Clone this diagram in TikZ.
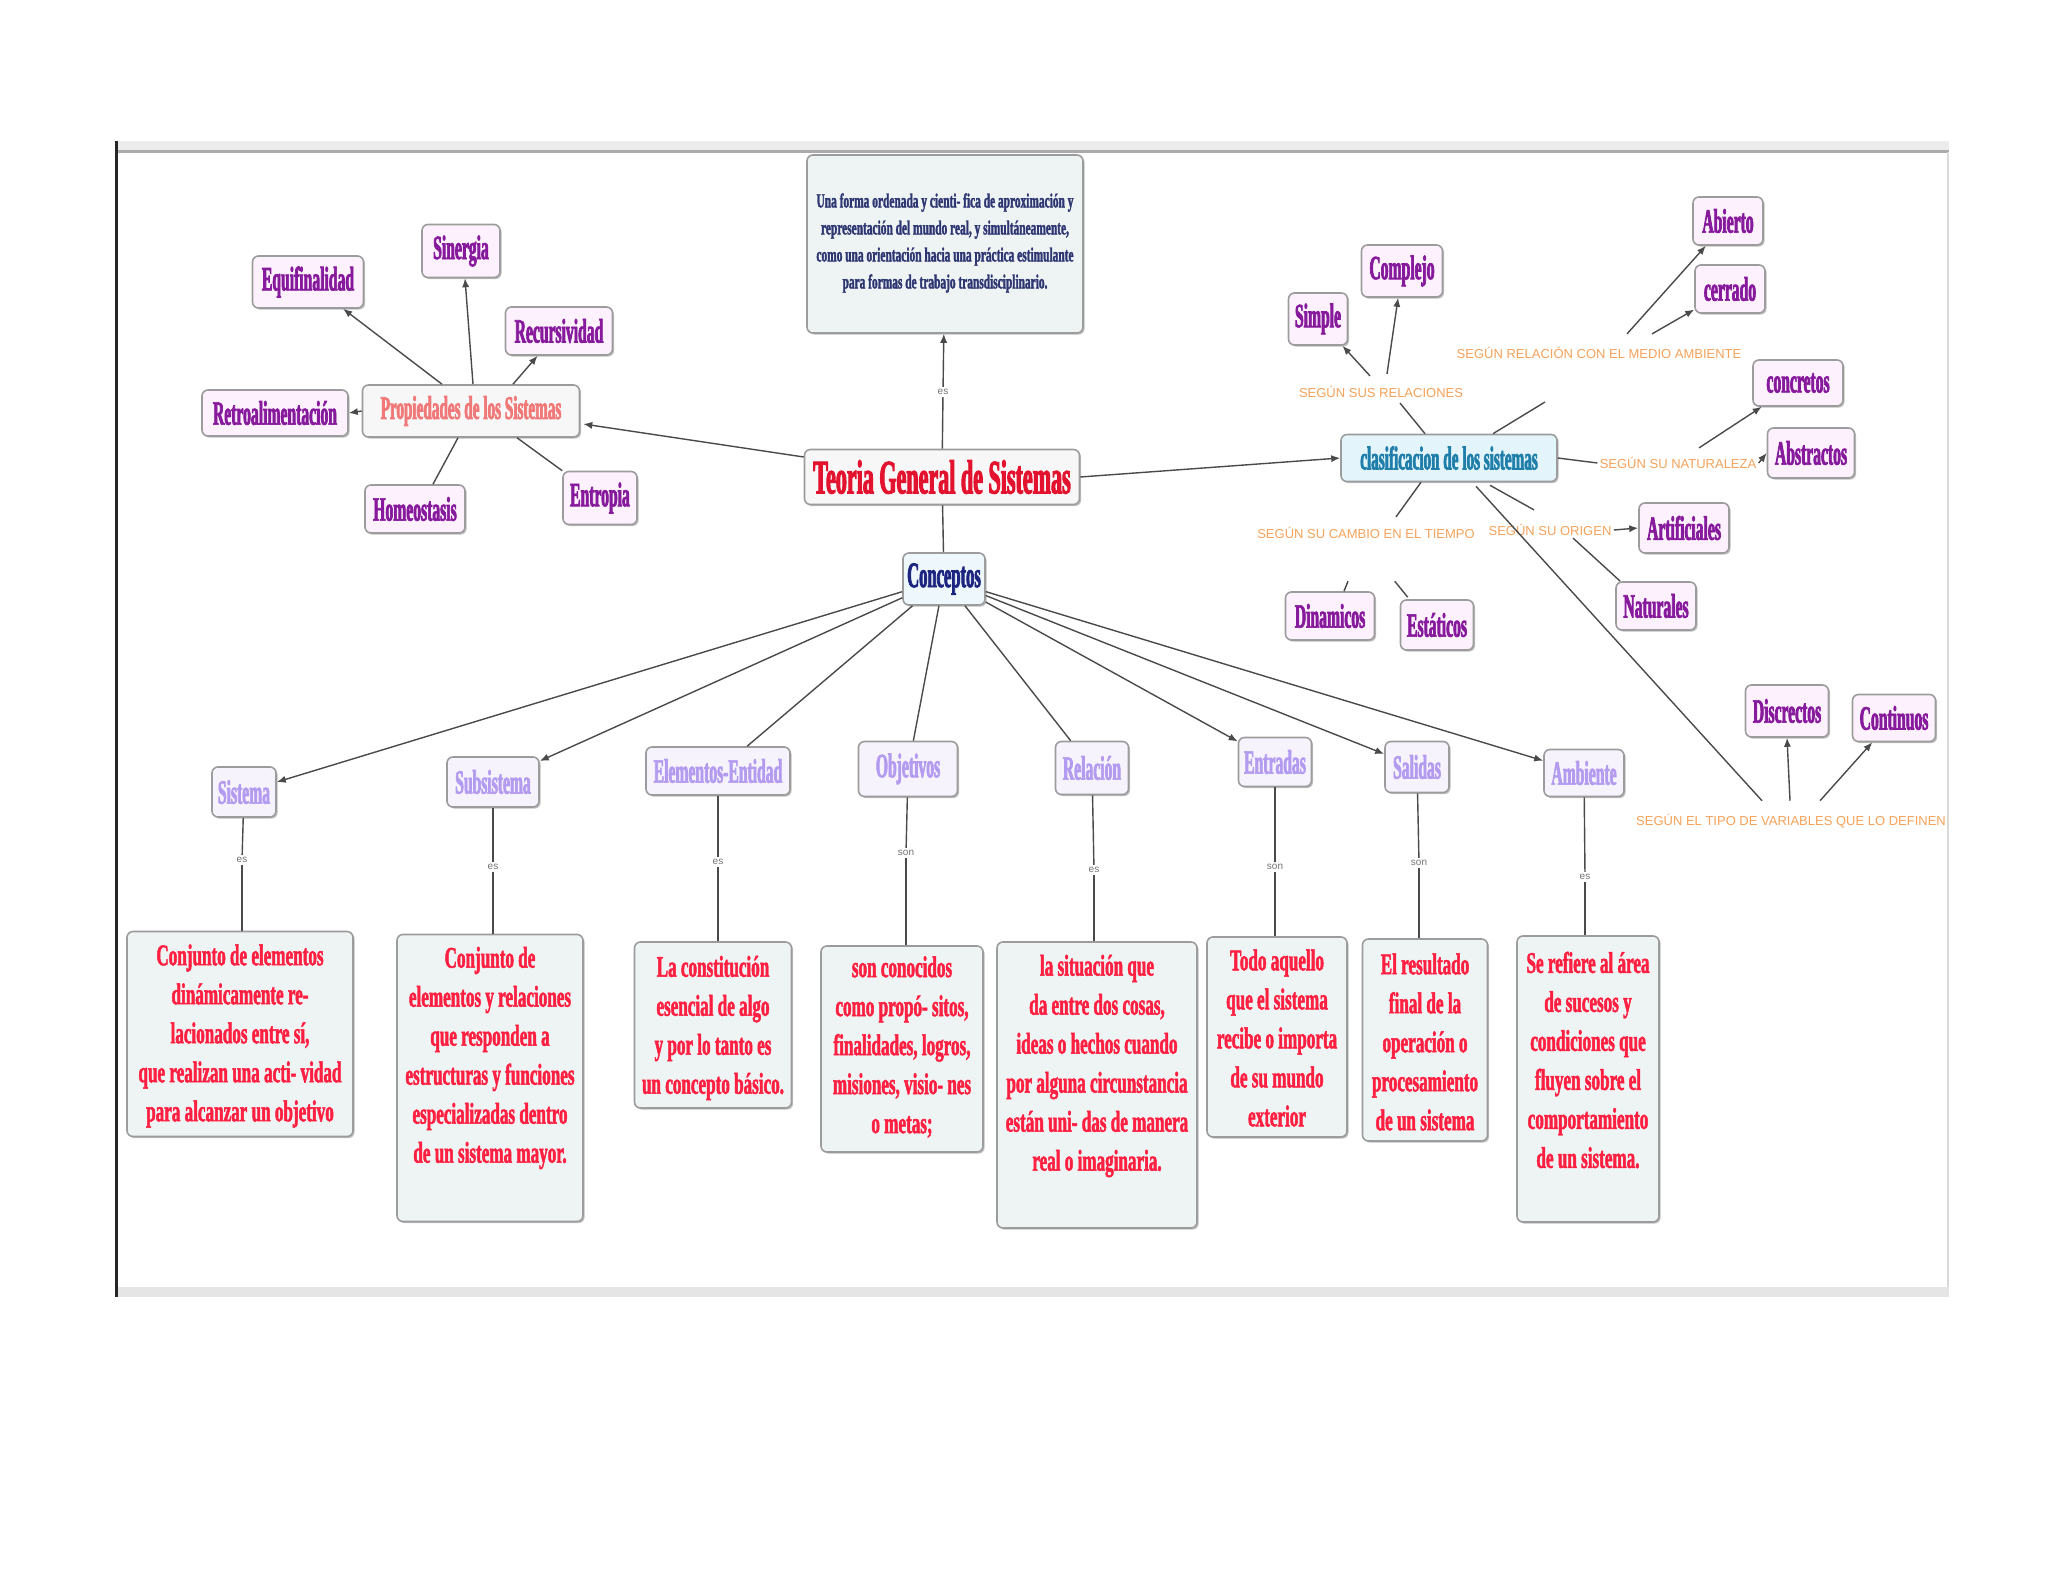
\documentclass[tikz,border=0pt]{standalone}
\usepackage{fontspec}
\setmainfont{Liberation Serif}
\newfontfamily\nodef[FakeStretch=0.46,FakeBold=2]{Liberation Serif}
\newfontfamily\descf[FakeStretch=0.57,FakeBold=1.6]{Liberation Serif}
\newfontfamily\lblf{Liberation Sans}
\usetikzlibrary{arrows.meta,calc,shadows}
\definecolor{purp}{HTML}{86199C}
\definecolor{teored}{HTML}{E3132F}
\definecolor{salmon}{HTML}{F07878}
\definecolor{clasblue}{HTML}{1F7FAA}
\definecolor{navy}{HTML}{1C2480}
\definecolor{lav}{HTML}{B39CF0}
\definecolor{descred}{HTML}{FF1F40}
\definecolor{topnavy}{HTML}{2E3672}
\definecolor{orlbl}{HTML}{F5A25A}
\definecolor{linec}{HTML}{4A4A4A}
\definecolor{boxline}{HTML}{9C9C9C}
\definecolor{descfill}{HTML}{EEF3F4}
\definecolor{pinkfill}{HTML}{FCF1FC}
\definecolor{lavfill}{HTML}{F7F3FD}
\definecolor{bluefill}{HTML}{E3F4FA}
\definecolor{bandgray}{HTML}{ECECEC}
\definecolor{bandline}{HTML}{ABABAB}
\tikzset{
  box/.style={draw=boxline, line width=0.8pt, rounded corners=3pt, inner sep=2pt, align=center,
     drop shadow={shadow xshift=0.8pt, shadow yshift=-0.8pt, opacity=0.25, fill=black}},
  wh/.style 2 args={minimum width=#1*0.5pt, minimum height=#2*0.5pt},
  pnode/.style={box, fill=pinkfill, text=purp, font=\nodef\bfseries\fontsize{17}{20}\selectfont},
  lnode/.style={box, fill=lavfill, text=lav, font=\nodef\bfseries\fontsize{17}{20}\selectfont},
  descbox/.style={box, fill=descfill},
  desctxt/.style={text=descred, align=center, inner sep=0pt, font=\descf\bfseries\fontsize{15}{19.5}\selectfont},
  lbl/.style={text=orlbl, inner sep=1pt, font=\lblf\fontsize{6.5}{8}\selectfont},
  lnk/.style={text=black!55, fill=white, inner sep=1pt, font=\lblf\fontsize{5}{6}\selectfont},
  conn/.style={draw=linec, line width=0.7pt},
  arr/.style={conn, -{Latex[length=4.5pt,width=3.6pt]}},
}
\begin{document}
\begin{tikzpicture}[x=0.5pt,y=-0.5pt]
\useasboundingbox (0,0) rectangle (2048,1582);
\fill[white] (0,0) rectangle (2048,1582);
% screenshot frame
\fill[bandgray] (115,141) rectangle (1949,151);
\draw[bandline, line width=1.5pt] (115,152) -- (1949,152);
\draw[black!15, line width=1pt] (1948,152) -- (1948,1288);
\fill[black!10] (115,1287) rectangle (1949,1297);
\draw[black!85, line width=1.5pt] (116,141) -- (116,1297);

% centre
\node[box, fill=descfill, wh={276}{178}] (def) at (945,244) {};
\node[text=topnavy, inner sep=0pt, align=center, font=\descf\bfseries\fontsize{10}{13.5}\selectfont] (deft) at (945,243)
 {Una forma ordenada y cienti- fica de aproximación y\\representación del mundo real, y simultáneamente,\\como una orientación hacia una práctica estimulante\\para formas de trabajo transdisciplinario.};
\node[box, fill=black!3, wh={275}{55}, text=teored, font=\nodef\bfseries\fontsize{24}{28}\selectfont] (teo) at (942,477) {Teoria General de Sistemas};
\node[box, fill=bluefill!60, wh={82}{52}, text=navy, font=\nodef\bfseries\fontsize{18}{20}\selectfont] (con) at (944,579) {Conceptos};
\node[lnk] (l0) at (943,392) {es};

% propiedades
\node[box, fill=black!3, wh={217}{52}, text=salmon, font=\nodef\bfseries\fontsize{16.5}{20}\selectfont] (prop) at (471,411) {Propiedades de los Sistemas};
\node[pnode, wh={111}{52}] (equi) at (308,282) {Equifinalidad};
\node[pnode, wh={78}{53}] (sin) at (461,251) {Sinergia};
\node[pnode, wh={107}{48}] (rec) at (559,331) {Recursividad};
\node[pnode, wh={146}{46}] (ret) at (275,413) {Retroalimentación};
\node[pnode, wh={100}{48}] (hom) at (415,509) {Homeostasis};
\node[pnode, wh={74}{53}] (ent) at (600,498) {Entropia};

% clasificacion
\node[box, fill=bluefill, wh={216}{47}, text=clasblue, font=\nodef\bfseries\fontsize{16.5}{20}\selectfont] (clas) at (1449,458) {clasificacion de los sistemas};
\node[pnode, wh={59}{52}] (simp) at (1318,319) {Simple};
\node[pnode, wh={81}{52}] (comp) at (1402,271) {Complejo};
\node[pnode, wh={70}{48}] (abi) at (1728,221) {Abierto};
\node[pnode, wh={70}{48}] (cer) at (1730,289) {cerrado};
\node[pnode, wh={90}{46}] (conc) at (1798,383) {concretos};
\node[pnode, wh={87}{50}] (abst) at (1811,453) {Abstractos};
\node[pnode, wh={90}{50}] (arti) at (1684,528) {Artificiales};
\node[pnode, wh={80}{48}] (nat) at (1656,606) {Naturales};
\node[pnode, wh={89}{48}] (din) at (1330,616) {Dinamicos};
\node[pnode, wh={73}{50}] (est) at (1437,625) {Estáticos};
\node[pnode, wh={83}{52}] (disc) at (1787,711) {Discrectos};
\node[pnode, wh={83}{47}] (cont) at (1894,718) {Continuos};

\node[lbl] (lsus) at (1381,392) {SEGÚN SUS RELACIONES};
\node[lbl] (lmed) at (1599,353) {SEGÚN RELACIÓN CON EL MEDIO AMBIENTE};
\node[lbl] (lnat) at (1678,463) {SEGÚN SU NATURALEZA};
\node[lbl] (lcam) at (1366,533) {SEGÚN SU CAMBIO EN EL TIEMPO};
\node[lbl] (lori) at (1550,530) {SEGÚN SU ORIGEN};
\node[lbl] (lvar) at (1791,821) {SEGÚN EL TIPO DE VARIABLES QUE LO DEFINEN};
\coordinate (cmed) at (1545,402);

% conceptos row
\node[lnode, wh={64}{50}] (sis) at (244,792) {Sistema};
\node[lnode, wh={92}{50}] (sub) at (493,782) {Subsistema};
\node[lnode, wh={144}{48}] (ele) at (718,771) {Elementos-Entidad};
\node[lnode, wh={99}{55}] (obj) at (908,769) {Objetivos};
\node[lnode, wh={73}{53}] (rel) at (1092,768) {Relación};
\node[lnode, wh={73}{49}] (entr) at (1275,762) {Entradas};
\node[lnode, wh={64}{51}] (sal) at (1417,767) {Salidas};
\node[lnode, wh={80}{47}] (amb) at (1584,773) {Ambiente};

% descriptions
\node[descbox, wh={226}{205}] (d1) at (240,1034) {};
\node[desctxt] (t1) at (240,1036) {Conjunto de elementos\\dinámicamente re-\\lacionados entre sí,\\que realizan una acti- vidad\\para alcanzar un objetivo};
\node[descbox, wh={186}{287}] (d2) at (490,1078) {};
\node[desctxt] (t2) at (490,1058) {Conjunto de\\elementos y relaciones\\que responden a\\estructuras y funciones\\especializadas dentro\\de un sistema mayor.};
\node[descbox, wh={157}{166}] (d3) at (713,1025) {};
\node[desctxt] (t3) at (713,1028) {La constitución\\esencial de algo\\y por lo tanto es\\un concepto básico.};
\node[descbox, wh={162}{206}] (d4) at (902,1049) {};
\node[desctxt] (t4) at (902,1047) {son conocidos\\como propó- sitos,\\finalidades, logros,\\misiones, visio- nes\\o metas;};
\node[descbox, wh={200}{286}] (d5) at (1097,1085) {};
\node[desctxt] (t5) at (1097,1066) {la situación que\\da entre dos cosas,\\ideas o hechos cuando\\por alguna circunstancia\\están uni- das de manera\\real o imaginaria.};
\node[descbox, wh={140}{200}] (d6) at (1277,1037) {};
\node[desctxt] (t6) at (1277,1038) {Todo aquello\\que el sistema\\recibe o importa\\de su mundo\\exterior};
\node[descbox, wh={125}{202}] (d7) at (1425,1040) {};
\node[desctxt] (t7) at (1425,1042) {El resultado\\final de la\\operación o\\procesamiento\\de un sistema};
\node[descbox, wh={142}{286}] (d8) at (1588,1079) {};
\node[desctxt] (t8) at (1588,1060) {Se refiere al área\\de sucesos y\\condiciones que\\fluyen sobre el\\comportamiento\\de un sistema.};

\node[lnk] (e1) at (242,860) {es};
\node[lnk] (e2) at (493,867) {es};
\node[lnk] (e3) at (718,862) {es};
\node[lnk] (e4) at (906,853) {son};
\node[lnk] (e5) at (1094,870) {es};
\node[lnk] (e6) at (1275,867) {son};
\node[lnk] (e7) at (1419,863) {son};
\node[lnk] (e8) at (1585,877) {es};

% connectors: centre
\draw[conn] (teo) -- (l0);
\draw[arr] (l0) -- (def);
\draw[conn] (teo) -- (con);
\draw[arr] ($(teo.west)+(0,-20)$) -- ($(prop.east)+(3,13)$);
\draw[arr] (teo.east) -- (clas.west);

% propiedades
\draw[arr] ($(prop.north)+(-29,0)$) -- (equi);
\draw[arr] ($(prop.north)+(2,0)$) -- ($(sin.south)+(4,0)$);
\draw[arr] ($(prop.north)+(42,0)$) -- (rec);
\draw[arr] (prop.west) -- (ret.east);
\draw[conn] ($(prop.south)+(-13,0)$) -- ($(hom.north)+(18,0)$);
\draw[conn] ($(prop.south)+(46,0)$) -- (ent.north west);

% clasificacion
\draw[conn] ($(clas.north)+(-24,0)$) -- ($(lsus.south)+(19,3)$);
\draw[arr] ($(lsus.north)+(-11,-8)$) -- (simp);
\draw[arr] ($(lsus.north)+(6,-10)$) -- (comp);
\draw[conn] ($(clas.north)+(44,0)$) -- (cmed);
\draw[arr] ($(lmed.north)+(28,-11)$) -- (abi);
\draw[arr] ($(lmed.north)+(53,-11)$) -- (cer);
\draw[conn] (clas.east) -- (lnat.west);
\draw[arr] (lnat.east) -- (abst.west);
\draw[arr] ($(lnat.north)+(21,-7)$) -- (conc);
\draw[conn] ($(clas.south)+(-28,0)$) -- ($(lcam.north)+(30,-8)$);
\draw[conn] ($(din.north)+(18,-10)$) -- ($(din.north)+(14,0)$);
\draw[conn] ($(est.north west)+(-5,-18)$) -- ($(est.north west)+(8,-2)$);
\draw[conn] ($(clas.south)+(41,3)$) -- ($(lori.north)+(-16,-12)$);
\draw[arr] (lori.east) -- (arti.west);
\draw[conn] ($(lori.south)+(23,0)$) -- ($(nat.north west)+(5,0)$);
\draw[conn] ($(clas.south)+(27,4)$) -- ($(lvar.north)+(-29,-11)$);
\draw[arr] ($(lvar.north)+(-1,-11)$) -- (disc.south);
\draw[arr] ($(lvar.north)+(29,-11)$) -- (cont);

% conceptos
\draw[arr] (con) -- (sis);
\draw[arr] (con) -- (sub);
\draw[conn] (con) -- (ele);
\draw[conn] (con) -- (obj);
\draw[conn] (con) -- (rel);
\draw[arr] (con) -- (entr);
\draw[arr] (con) -- (sal);
\draw[arr] (con) -- (amb);

\foreach \a/\e/\d in {sis/e1/d1, sub/e2/d2, ele/e3/d3, obj/e4/d4, rel/e5/d5, entr/e6/d6, sal/e7/d7, amb/e8/d8}{
  \draw[conn] (\a) -- (\e);
  \draw[conn] (\e) -- (\d.north -| \e);
}
\end{tikzpicture}
\end{document}
